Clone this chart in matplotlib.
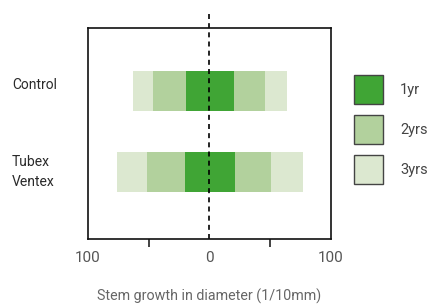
import matplotlib
matplotlib.use('Agg')
import matplotlib.pyplot as plt
from matplotlib.patches import Patch

plt.rcParams['font.family'] = ['Roboto', 'DejaVu Sans']

# data (extent of each ring, in 1/10 mm)
categories = ['Control', 'Tubex\nVentex']
series = ['1yr', '2yrs', '3yrs']
left_1yr = [-19, -20]
right_1yr = [20, 21]
left_2yrs = [-46, -51]
right_2yrs = [46, 51]
left_3yrs = [-63, -76]
right_3yrs = [64, 77]
colors = ['#40a535', '#b2d19d', '#dce8d0']

ypos = [1, 0]
label_shift = [0.075, 0.0]

fig = plt.figure(figsize=(4.33, 3.06), dpi=100)
ax = fig.add_axes([0.2025, 0.219, 0.562, 0.6895])

# widest ring first, narrower drawn on top
for lefts, rights, c in [(left_3yrs, right_3yrs, colors[2]),
                         (left_2yrs, right_2yrs, colors[1]),
                         (left_1yr, right_1yr, colors[0])]:
    widths = [r - l for l, r in zip(lefts, rights)]
    ax.barh(ypos, widths, left=lefts, height=0.49, color=c, linewidth=0)

ax.set_xlim(-100, 100)
ax.set_ylim(-0.83, 1.78)

ax.axvline(0, ymin=0, ymax=1.076, color='black', ls=(0, (3, 2.5)), lw=1.2, clip_on=False)

for s in ax.spines.values():
    s.set_linewidth(1.2)
    s.set_color('#111111')

ax.set_yticks([])
ax.set_xticks([-50, 50])
ax.set_xticklabels([])
ax.tick_params(axis='x', which='major', length=6, width=1.2, color='#222222')
ax.set_xticks([-100, 0, 100], minor=True)
ax.set_xticklabels(['100', '0', '100'], minor=True)
ax.tick_params(axis='x', which='minor', length=0, pad=9, labelsize=11, labelcolor='#555555')

ax.set_xlabel('Stem growth in diameter (1/10mm)', fontsize=10.3, color='#666666', labelpad=17)

for y, lab, dy in zip(ypos, categories, label_shift):
    ax.text(-0.311, y + dy, lab, transform=ax.get_yaxis_transform(),
            ha='left', va='center', fontsize=10, color='#2a2a2a', linespacing=1.55)

handles = [Patch(facecolor=c, edgecolor='#444444', linewidth=1) for c in colors]
fig.legend(handles, series, loc='upper left', bbox_to_anchor=(0.8176, 0.755),
           frameon=False, fontsize=10.5, handlelength=1.99, handleheight=2.68,
           labelspacing=0.75, handletextpad=1.16, borderpad=0, borderaxespad=0,
           labelcolor='#444444')

fig.savefig('out.png', dpi=100)
